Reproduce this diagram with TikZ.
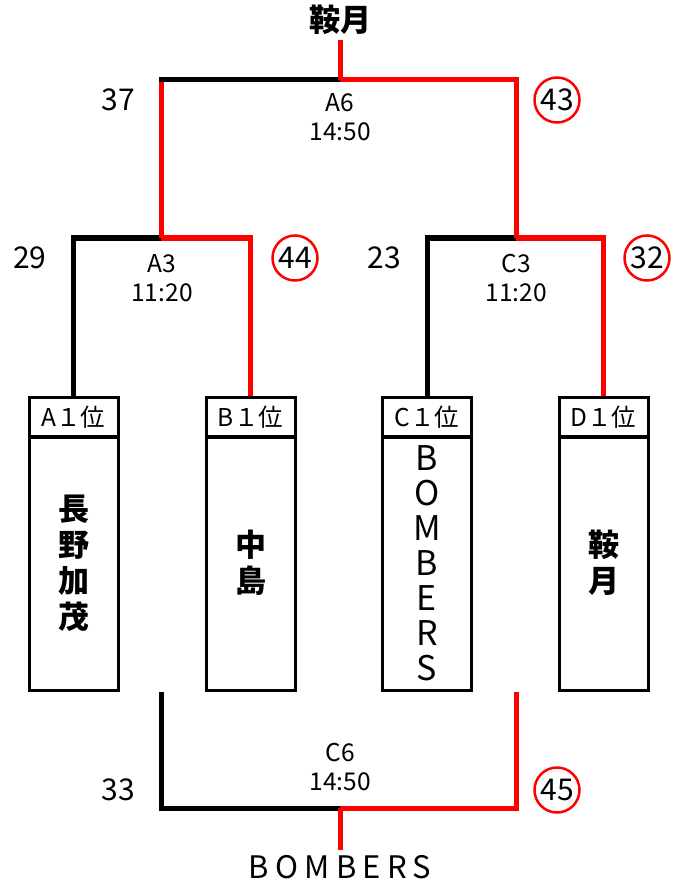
\documentclass[tikz,border=0pt]{standalone}
\usepackage{fontspec}
\setmainfont{Noto Sans CJK JP}
\tikzset{
  win/.style={red,line width=5pt},
  lose/.style={black,line width=5pt},
  team/.style={draw,line width=3pt,minimum width=89pt,inner sep=0pt},
  rank/.style={font=\fontsize{24.5}{24.5}\selectfont},
  jname/.style={align=center,font=\fontsize{31}{36}\selectfont\bfseries},
  ename/.style={align=center,font=\fontsize{34}{35}\selectfont},
  score/.style={font=\fontsize{30}{30}\selectfont},
  best/.style={score,circle,draw=red,line width=2.5pt,minimum size=45pt,inner sep=0pt},
  game/.style={align=center,font=\fontsize{24.5}{29}\selectfont},
}
\begin{document}
\begin{tikzpicture}[x=1pt,y=-1pt]
\useasboundingbox (0,0) rectangle (672,885);
% team boxes
\foreach \n/\x/\h/\s/\t in {A/73.5/A１位/jname/{長\\野\\加\\茂},
    B/250.5/B１位/jname/{中\\島},
    C/427/C１位/ename/{B\\O\\M\\B\\E\\R\\S},
    D/603.5/D１位/jname/{鞍\\月}} {
  \node[team,rank,minimum height=40pt] (h\n) at (\x,417) {\h};
  \node[team,minimum height=254pt] (b\n) at (\x,563) {};
  \node[\s] (t\n) at (b\n) {\t};
}
\node[jname,anchor=base] (champ) at (340,32) {鞍月};
\node[font=\fontsize{31}{31}\selectfont\addfontfeature{LetterSpace=20},anchor=base] (runner) at (340,878) {BOMBERS};
\coordinate (a3) at (161,238);
\coordinate (c3) at (516,238);
\coordinate (a6) at (340,80);
\coordinate (a6e) at (340,40);
\coordinate (c6) at (340,808);
\coordinate (c6e) at (340,850);
\coordinate (c6l) at (161,692);
\coordinate (c6r) at (516,692);
% first round
\draw[lose] (hA.north) |- (a3);
\draw[win] (hB.north) |- (a3);
\draw[lose] (hC.north) |- (c3);
\draw[win] (hD.north) |- (c3);
% final
\draw[win] (a3) -- (a3 |- a6);
\draw[lose,line cap=rect] (a3 |- a6) -- (a6);
\draw[win] (c3) |- (a6);
\draw[win] (a6) -- (a6e);
% third place
\draw[lose] (c6l) |- (c6);
\draw[win] (c6r) |- (c6);
\draw[win] (c6) -- (c6e);
% games
\node[game] (gA6) at (340,117) {A6\\14:50};
\node[game] (gA3) at (162,278) {A3\\11:20};
\node[game] (gC3) at (516,278) {C3\\11:20};
\node[game] (gC6) at (340,767) {C6\\14:50};
% scores
\node[score] (s37) at (118,100) {37};
\node[best] (s43) at (557,100) {43};
\node[score] (s29) at (30,258) {29};
\node[best] (s44) at (295,258) {44};
\node[score] (s23) at (384,258) {23};
\node[best] (s32) at (647,258) {32};
\node[score] (s33) at (118,790) {33};
\node[best] (s45) at (557,790) {45};
\end{tikzpicture}
\end{document}
